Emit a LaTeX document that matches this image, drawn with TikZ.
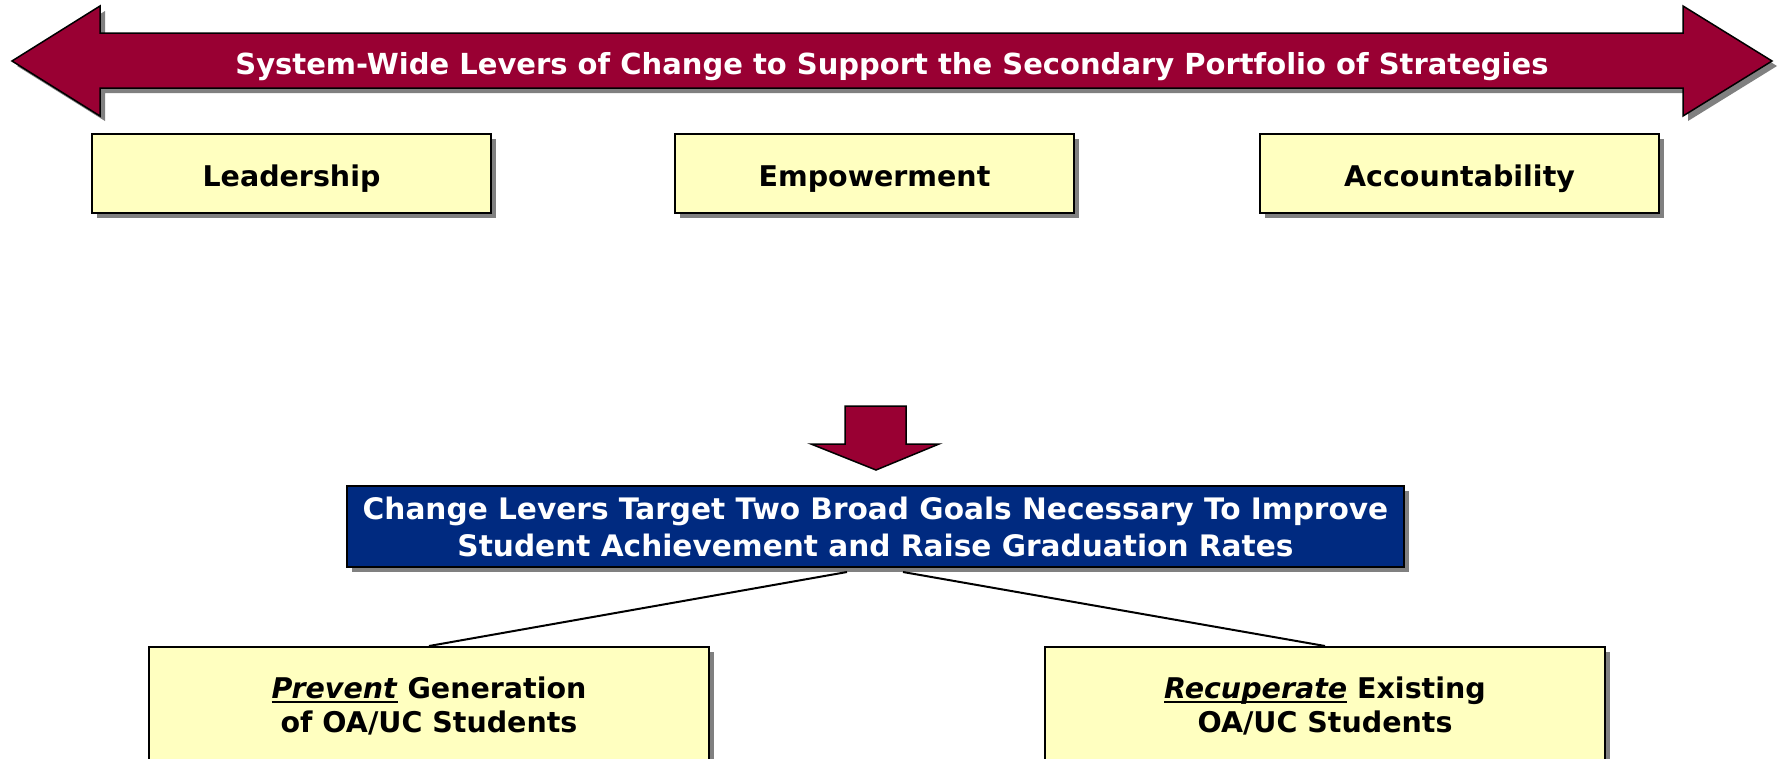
\documentclass[tikz,border=0pt]{standalone}
\usepackage{fontspec}
\setmainfont{DejaVu Sans}
\usetikzlibrary{shadows,calc}
\definecolor{maroon}{HTML}{990033}
\definecolor{paleyellow}{HTML}{FFFFC0}
\definecolor{navy}{HTML}{002A80}
\definecolor{shadowgray}{HTML}{808080}
\newcommand{\thickul}[1]{\setbox0\hbox{#1}\rlap{\rule[-4.5pt]{\wd0}{2pt}}\box0\relax}
\tikzset{
  shadowed/.style={drop shadow={shadow xshift=5pt, shadow yshift=-5pt, fill=shadowgray, opacity=1}},
  leverbox/.style={draw=black, line width=2pt, fill=paleyellow, shadowed, minimum width=399pt, minimum height=79pt, inner sep=0pt, text height=26pt, text depth=0pt, font=\bfseries\fontsize{28.5}{33}\selectfont},
  goalbox/.style={draw=black, line width=2pt, fill=navy, shadowed, minimum width=1057pt, minimum height=81pt, inner sep=0pt, align=center, text=white, font=\bfseries\fontsize{29.6}{37}\selectfont},
  targetbox/.style={draw=black, line width=2pt, fill=paleyellow, shadowed, minimum width=560pt, minimum height=118pt, inner sep=0pt, align=center, font=\bfseries\fontsize{28.5}{34}\selectfont},
  connector/.style={draw=black, line width=2pt}
}
\begin{document}
\begin{tikzpicture}[x=1pt,y=-1pt]
\useasboundingbox (0,0) rectangle (1782,758);
\clip (0,0) rectangle (1782,758);
\fill[white] (0,0) rectangle (1782,758);
% big double arrow
\def\dblarrow{(12,61) -- (100,6) -- (100,33) -- (1683,33) -- (1683,6) -- (1772,61) -- (1683,116) -- (1683,88) -- (100,88) -- (100,116) -- cycle}
\fill[shadowgray, shift={(5pt,-5pt)}] \dblarrow;
\filldraw[fill=maroon, draw=black, line width=1.5pt, line join=miter] \dblarrow;
\node[text=white, inner sep=0pt, text height=26pt, text depth=0pt, font=\bfseries\fontsize{29}{35}\selectfont] (title) at (892,61) {System-Wide Levers of Change to Support the Secondary Portfolio of Strategies};
% lever boxes
\node[leverbox] (lead) at (291.5,173.5) {Leadership};
\node[leverbox] (emp) at (874.5,173.5) {Empowerment};
\node[leverbox] (acc) at (1459.5,173.5) {Accountability};
% down arrow
\filldraw[fill=maroon, draw=black, line width=1.5pt] (845,406) -- (906,406) -- (906,444) -- (939,444) -- (876,470) -- (811,444) -- (845,444) -- cycle;
% goal box
\node[goalbox] (goal) at (875.5,526.5) {Change Levers Target Two Broad Goals Necessary To Improve\\Student Achievement and Raise Graduation Rates};
% target boxes
\node[targetbox] (prev) at (429,706) {\thickul{\textit{Prevent}} Generation\\of OA/UC Students};
\node[targetbox] (recup) at (1325,706) {\thickul{\textit{Recuperate}} Existing\\OA/UC Students};
% connectors
\draw[connector] ($(goal.south)+(-28.5,4)$) -- (prev.north);
\draw[connector] ($(goal.south)+(27.5,4)$) -- (recup.north);
\end{tikzpicture}
\end{document}
